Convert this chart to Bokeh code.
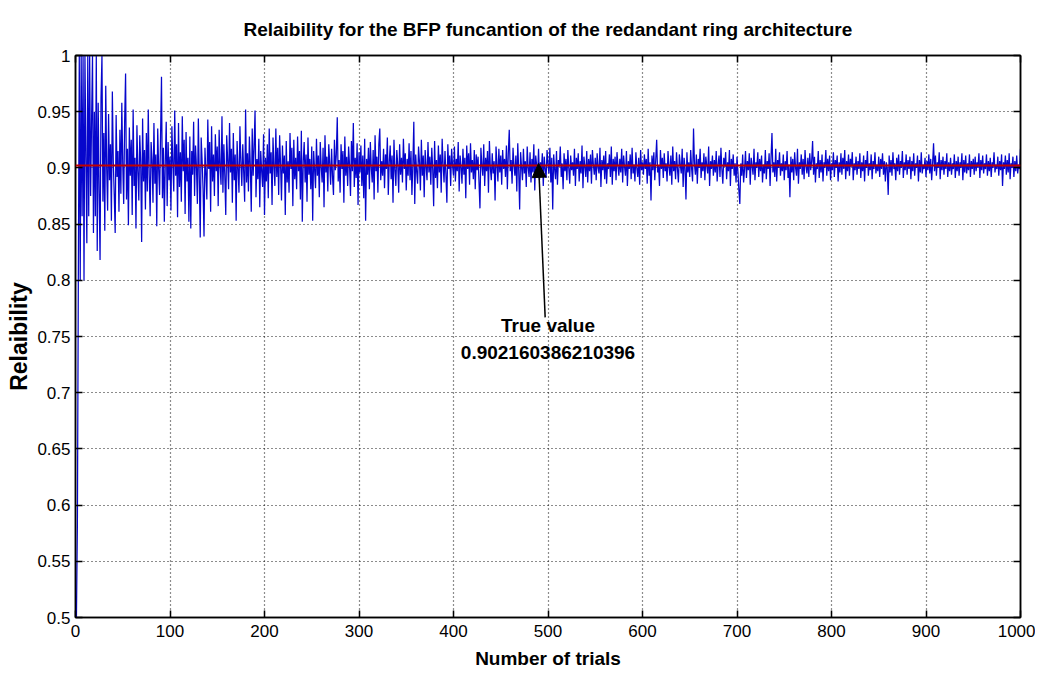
from bokeh.plotting import figure
from bokeh.models import (FixedTicker, LinearAxis, Range1d, Arrow, NormalHead, Label, Span,
                          CustomJSTickFormatter)
from bokeh.embed import file_html
from bokeh.resources import INLINE

title_text = "Relaibility for the BFP funcantion of the redandant ring architecture"
x_label = "Number of trials"
y_label = "Relaibility"
true_value = 0.902160386210396
annot_line1 = "True value"
annot_line2 = "0.902160386210396"

x_ticks = [0, 100, 200, 300, 400, 500, 600, 700, 800, 900, 1000]
y_ticks = [0.5, 0.55, 0.6, 0.65, 0.7, 0.75, 0.8, 0.85, 0.9, 0.95, 1.0]
y_tick_labels = ["0.5", "0.55", "0.6", "0.65", "0.7", "0.75", "0.8", "0.85", "0.9", "0.95", "1"]

# estimated reliability per trial, in thousandths (trial 1 .. 1000)
reliability_milli = [
    500,583,800,1000,800,1000,857,1000,800,1000,909,833,1000,857,1000,875,941,1000,842,950,857,1000,826,958,880,
    818,962,1000,870,931,844,973,900,862,948,889,921,853,968,905,876,842,947,892,915,861,934,877,958,903,
    868,941,984,872,917,849,936,893,925,858,952,884,909,846,938,897,871,929,905,834,944,888,916,863,931,
    879,952,894,857,923,907,869,940,886,912,848,935,899,876,928,981,873,918,852,905,941,866,923,889,910,
    862,937,904,879,951,893,921,856,940,883,914,870,946,897,925,859,932,888,909,852,928,846,915,894,941,
    875,920,901,868,944,892,838,927,906,881,839,918,895,872,943,899,923,861,937,888,912,875,930,897,919,
    866,934,902,885,946,878,921,893,858,929,907,881,940,896,917,869,931,889,912,853,924,899,878,937,905,
    884,921,896,870,952,887,913,879,928,902,861,935,893,919,951,874,908,890,926,865,915,897,883,930,858,
    909,888,921,873,935,895,914,867,927,901,884,935,892,918,876,929,903,871,920,895,911,858,924,887,906,
    878,931,899,918,866,925,890,909,881,928,897,915,872,933,852,906,923,887,912,870,927,894,908,881,919,
    853,915,899,882,926,893,911,874,923,901,887,918,865,929,896,910,879,921,904,885,917,892,876,925,898,
    912,945,888,907,878,921,899,915,869,928,893,910,884,919,902,875,924,897,940,883,909,891,922,867,914,
    896,920,884,911,873,926,853,908,894,918,881,923,900,887,916,872,929,897,910,878,921,935,889,906,893,
    917,882,912,899,927,876,905,920,890,911,869,925,898,884,916,903,878,921,894,909,887,926,899,913,880,
    908,893,922,889,915,876,903,941,868,912,897,886,919,905,880,925,893,911,874,916,901,889,923,896,910,
    885,918,899,866,924,891,907,882,920,896,912,878,926,903,887,915,894,869,921,899,911,884,917,902,893,
    919,888,908,897,923,879,911,901,886,917,894,909,873,920,899,913,885,922,896,907,890,916,881,912,898,
    910,887,864,918,902,893,921,884,909,897,915,878,924,900,889,913,895,906,871,919,903,888,917,896,911,
    885,916,899,908,892,920,881,913,934,897,907,886,918,902,893,911,879,922,898,863,914,901,889,917,895,
    906,883,919,900,892,914,887,908,896,921,880,911,902,893,917,889,905,898,913,884,910,899,891,916,903,
    895,918,887,909,863,912,899,890,915,885,907,901,919,892,904,881,913,897,908,889,916,900,886,911,898,
    905,893,917,884,909,899,913,888,906,895,920,882,910,901,892,915,887,908,897,912,886,916,903,894,909,
    889,913,900,895,918,883,907,898,911,890,915,886,904,899,912,892,919,885,908,897,910,889,914,902,893,
    908,896,917,887,911,901,893,915,884,906,899,912,890,918,895,903,888,914,900,892,909,885,916,898,905,
    894,912,899,908,886,917,893,905,871,911,898,914,889,907,925,896,902,884,916,899,909,891,913,897,904,
    888,915,901,893,911,885,919,897,906,890,914,899,887,912,903,895,917,883,909,900,872,914,896,905,892,
    916,899,888,935,903,894,912,886,908,900,917,891,905,897,913,889,910,902,895,919,884,906,899,911,893,
    907,896,915,888,903,911,892,918,899,886,909,901,914,890,905,897,916,884,908,899,912,893,904,887,910,
    896,880,868,904,893,912,887,899,915,891,906,898,913,885,909,902,894,917,889,905,900,914,892,908,897,
    911,887,903,895,916,890,906,899,913,884,909,931,896,905,892,917,888,907,900,914,893,904,897,912,889,
    906,898,915,891,903,874,910,896,908,889,914,900,893,917,886,905,899,912,894,908,890,916,901,895,909,
    892,913,898,906,924,894,910,887,904,899,915,891,907,896,912,888,905,900,916,893,908,897,911,889,904,
    898,914,892,907,900,911,888,905,896,913,894,909,899,916,890,906,897,912,893,908,901,914,889,904,898,
    910,894,906,899,913,891,905,897,911,888,907,900,915,893,904,898,912,890,906,899,914,895,903,897,910,
    892,908,899,913,894,906,888,905,900,876,911,896,907,893,914,899,904,889,909,897,912,894,906,900,915,
    891,905,898,912,894,907,899,910,890,906,897,913,893,904,900,911,888,907,896,914,895,903,899,909,892,
    906,898,912,895,908,889,904,922,897,911,893,905,900,914,890,907,898,910,894,906,899,913,892,905,897,
    909,894,904,899,912,891,906,897,910,893,905,900,913,889,907,896,911,895,904,898,912,892,906,899,908,
    894,910,897,905,900,913,891,907,898,911,895,904,899,912,893,906,897,909,892,905,900,914,896,903,899,
    910,893,906,898,912,884,905,899,911,894,907,896,913,890,904,900,910,892,906,897,911,895,903,899,917,
]

trials = list(range(1, len(reliability_milli) + 1))
reliability = [v / 1000.0 for v in reliability_milli]

FONT = "Liberation Sans"

p = figure(width=1035, height=678, output_backend="svg", toolbar_location=None,
           x_range=Range1d(0, 1000), y_range=Range1d(0.5, 1.0),
           min_border_left=75, min_border_right=15, min_border_top=55, min_border_bottom=61,
           background_fill_color="white", border_fill_color="white")

p.title.text = title_text
p.title.align = "center"
p.title.text_font = FONT
p.title.text_font_size = "19px"
p.title.text_font_style = "bold"
p.title.text_color = "black"
p.title.standoff = 31

p.line(trials, reliability, line_color="#0606cc", line_width=1.25)
p.add_layout(Span(location=true_value, dimension="width", line_color="#c00000", line_width=2))

for ax in (p.xaxis[0], p.yaxis[0]):
    ax.major_tick_in = 7
    ax.major_tick_out = 0
    ax.minor_tick_in = 0
    ax.minor_tick_out = 0
    ax.axis_line_color = "black"
    ax.axis_line_width = 1.5
    ax.major_tick_line_color = "black"
    ax.major_tick_line_width = 1.5
    ax.major_label_text_font = FONT
    ax.major_label_text_font_size = "17px"
    ax.major_label_text_color = "black"
    ax.axis_label_text_color = "black"
    ax.axis_label_text_font = FONT
    ax.axis_label_text_font_style = "bold"

p.xaxis[0].ticker = FixedTicker(ticks=x_ticks)
p.yaxis[0].ticker = FixedTicker(ticks=y_ticks)
p.yaxis[0].major_label_overrides = {t: l for t, l in zip(y_ticks, y_tick_labels)}
p.xaxis[0].axis_label = x_label
p.xaxis[0].axis_label_text_font_size = "19px"
p.xaxis[0].major_label_standoff = 7
p.xaxis[0].axis_label_standoff = 8
p.yaxis[0].axis_label = y_label
p.yaxis[0].axis_label_text_font_size = "23px"
p.yaxis[0].major_label_standoff = 5
p.yaxis[0].axis_label_standoff = 2

for loc, tk in (("above", x_ticks), ("right", y_ticks)):
    a = LinearAxis(ticker=FixedTicker(ticks=tk), major_tick_in=7, major_tick_out=0,
                   minor_tick_in=0, minor_tick_out=0, axis_line_color="black",
                   axis_line_width=1.5, major_tick_line_width=1.5,
                   formatter=CustomJSTickFormatter(code="return ''"),
                   major_label_standoff=0)
    p.add_layout(a, loc)

p.xgrid.ticker = FixedTicker(ticks=x_ticks)
p.ygrid.ticker = FixedTicker(ticks=y_ticks)
for g in (p.xgrid[0], p.ygrid[0]):
    g.grid_line_color = "black"
    g.grid_line_dash = "1 3"
    g.grid_line_width = 1.2
    g.grid_line_alpha = 0.9
p.outline_line_color = "black"
p.outline_line_width = 1.5

p.add_layout(Arrow(end=NormalHead(size=14, fill_color="black", line_color="black"),
                   x_start=497, y_start=0.767, x_end=490, y_end=0.904,
                   line_color="black", line_width=1.5))
p.add_layout(Label(x=500, y=0.760, text=annot_line1, text_align="center", text_baseline="middle",
                   text_font=FONT, text_font_size="19px", text_font_style="bold", text_color="black"))
p.add_layout(Label(x=500, y=0.736, text=annot_line2, text_align="center", text_baseline="middle",
                   text_font=FONT, text_font_size="19px", text_font_style="bold", text_color="black"))

open("out.html", "w").write(file_html(p, INLINE))
